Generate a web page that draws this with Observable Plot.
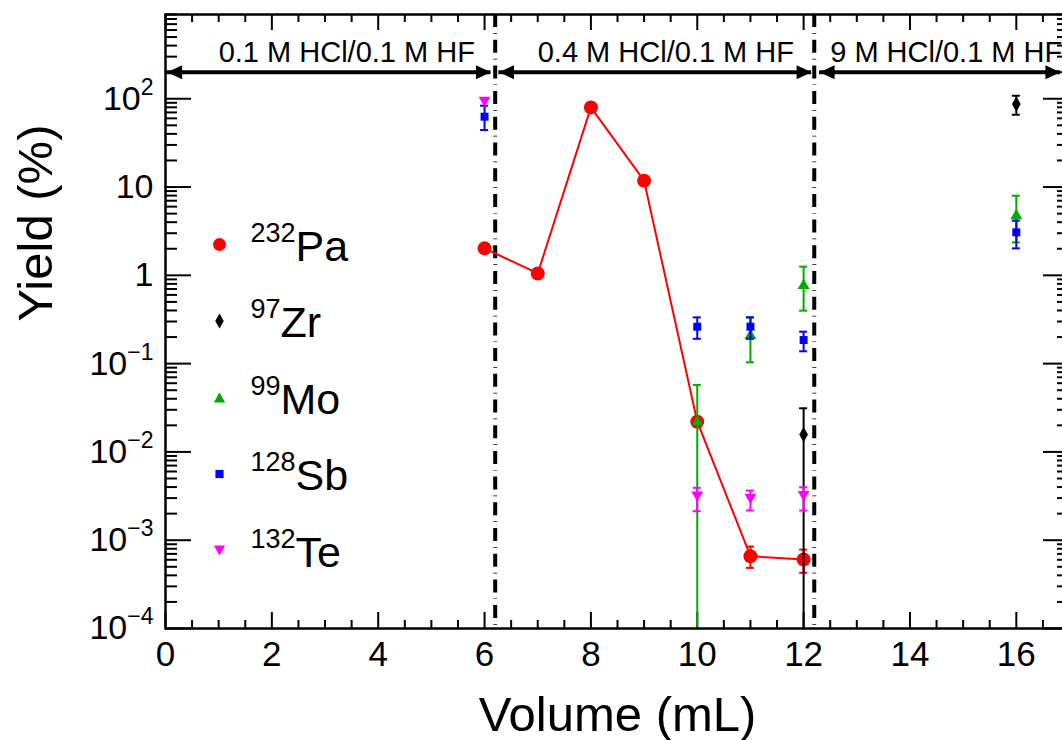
<!DOCTYPE html>
<html><head><meta charset="utf-8">
<script src="https://cdn.jsdelivr.net/npm/d3@7"></script>
<script src="https://cdn.jsdelivr.net/npm/@observablehq/plot@0.6"></script>
<style>
html,body{margin:0;padding:0;background:#fff;overflow:hidden}
#chart{position:relative;width:1062px;height:740px}
</style></head><body><div id="chart"></div>
<script>
// ---------- data ----------
// 232Pa (red circles, joined by a line)
const paVolume = [6, 7, 8, 9, 10, 11, 12];
const paYield  = [2.02, 1.05, 79.8, 11.8, 0.0220, 6.59e-4, 6.04e-4];
const paLow    = [null, null, null, null, null, 4.86e-4, 4.28e-4];
const paHigh   = [null, null, null, null, null, 8.47e-4, 7.83e-4];
// 97Zr (black diamonds)
const zrVolume = [12, 16];
const zrYield  = [0.0157, 87.1];
const zrLow    = [0, 65.9];       // 0: error bar runs below the axis
const zrHigh   = [0.0312, 108.2];
// 99Mo (green triangles)
const moVolume = [10, 11, 12, 16];
const moYield  = [0.0227, 0.217, 0.798, 4.95];
const moLow    = [0, 0.1035, 0.398, 2.36];
const moHigh   = [0.0574, 0.334, 1.254, 7.98];
// 128Sb (blue squares)
const sbVolume = [6, 10, 11, 12, 16];
const sbYield  = [62.6, 0.262, 0.262, 0.185, 3.07];
const sbLow    = [44.2, 0.191, 0.191, 0.138, 2.02];
const sbHigh   = [83.4, 0.334, 0.334, 0.230, 4.16];
// 132Te (magenta down triangles)
const teVolume = [6, 10, 11, 12];
const teYield  = [92, 0.00312, 0.00294, 0.00315];
const teLow    = [null, 0.00213, 0.00217, 0.00217];
const teHigh   = [null, 0.00392, 0.00365, 0.00398];

// eluent regions
const regionLabels = ["0.1 M HCl/0.1 M HF", "0.4 M HCl/0.1 M HF", "9 M HCl/0.1 M HF"];
const regionLabelX = [1, 7, 12.5];
const regionStart  = [0.03, 6.27, 12.3];
const regionEnd    = [6.12, 12.15, 16.83];
const regionArrowY = 200;
const dividerX     = [6.2, 12.2];

// axes
const xDomain = [0, 17];
const yDomain = [1e-4, 900];
const xTickValues = [0, 2, 4, 6, 8, 10, 12, 14, 16];
const yTickValues = [1e-4, 1e-3, 1e-2, 1e-1, 1, 10, 100];
const yTickLabels = ["10^\u22124", "10^\u22123", "10^\u22122", "10^\u22121", "1", "10", "10^2"];

// legend
const legendMass = ["232", "97", "99", "128", "132"];
const legendElement = ["Pa", "Zr", "Mo", "Sb", "Te"];

// ---------- helpers ----------
const colors = {Pa: "#ff0000", Zr: "#000000", Mo: "#00aa00", Sb: "#0000ff", Te: "#ff00ff"};
function rows(xs, ys, lo, hi) {
  return xs.map((x, i) => ({x, y: ys[i], low: lo[i], high: hi[i]}));
}
const pa = rows(paVolume, paYield, paLow, paHigh);
const zr = rows(zrVolume, zrYield, zrLow, zrHigh);
const mo = rows(moVolume, moYield, moLow, moHigh);
const sb = rows(sbVolume, sbYield, sbLow, sbHigh);
const te = rows(teVolume, teYield, teLow, teHigh);

const triUp = {draw(ctx, size) {
  const s = Math.sqrt(size * 4 / Math.sqrt(3)), h = s * Math.sqrt(3) / 2;
  ctx.moveTo(0, -h / 2); ctx.lineTo(s / 2, h / 2); ctx.lineTo(-s / 2, h / 2); ctx.closePath();
}};
const triDown = {draw(ctx, size) {
  const s = Math.sqrt(size * 4 / Math.sqrt(3)), h = s * Math.sqrt(3) / 2;
  ctx.moveTo(0, h / 2); ctx.lineTo(s / 2, -h / 2); ctx.lineTo(-s / 2, -h / 2); ctx.closePath();
}};
const headRight = {draw(ctx) { ctx.moveTo(0, 0); ctx.lineTo(-15, -7); ctx.lineTo(-15, 7); ctx.closePath(); }};
const headLeft  = {draw(ctx) { ctx.moveTo(0, 0); ctx.lineTo(15, -7); ctx.lineTo(15, 7); ctx.closePath(); }};

const W = 1062, H = 740;
const mL = 165, mR = -7, mT = 14, mB = 112;
const frameW = W - mL - mR, frameH = H - mT - mB;
const yMin = yDomain[0];

const yAllTicks = d3.scaleLog().domain(yDomain).ticks();
const yMinor = yAllTicks.filter(v => Math.abs(Math.log10(v) - Math.round(Math.log10(v))) > 1e-6);
const xMinor = d3.range(0, xDomain[1] + 0.001, 0.5).filter(v => v % 2 !== 0);

function errorMarks(data, color) {
  const withLow = data.filter(d => d.high != null && d.low >= yMin);
  const withHigh = data.filter(d => d.high != null);
  return [
    Plot.ruleX(withHigh, {x: "x", y1: d => Math.max(d.low, yMin), y2: "high", stroke: color, strokeWidth: 2}),
    Plot.ruleY(withHigh, {y: "high", x1: "x", x2: "x", insetLeft: -4, insetRight: -4, stroke: color, strokeWidth: 2}),
    Plot.ruleY(withLow, {y: "low", x1: "x", x2: "x", insetLeft: -4, insetRight: -4, stroke: color, strokeWidth: 2})
  ];
}

const legendSymbols = [
  {symbol: "circle", r: 6.5},
  {symbol: "diamond", r: 4.5},
  {symbol: triUp, r: 4.2},
  {symbol: "square", r: 4.6},
  {symbol: triDown, r: 4.2}
];
const legendMarks = legendElement.flatMap((el, i) => [
  Plot.dot([0], {frameAnchor: "top-left", dx: 54, dy: 230 + i * 76.5,
    symbol: legendSymbols[i].symbol, r: legendSymbols[i].r, fill: colors[el], stroke: "none"}),
  Plot.text([legendMass[i] + "|" + el], {frameAnchor: "top-left", dx: 85, dy: 246 + i * 76.5,
    lineAnchor: "bottom", textAnchor: "start", fontSize: 43, fill: "black", text: d => d})
]);

const regions = regionLabels.map((t, i) => ({t, lx: regionLabelX[i], x1: regionStart[i], x2: regionEnd[i], y: regionArrowY}));

const chart = Plot.plot({
  width: W, height: H,
  marginLeft: mL, marginRight: mR, marginTop: mT, marginBottom: mB,
  style: {fontFamily: "'Liberation Sans', Arial, Helvetica, sans-serif", background: "white", color: "black"},
  x: {domain: xDomain, axis: null},
  y: {type: "log", domain: yDomain, axis: null},
  marks: [
    // ticks (inward, mirrored)
    Plot.tickX(xTickValues, {x: d => d, insetTop: frameH - 16, stroke: "black", strokeWidth: 2}),
    Plot.tickX(xMinor, {x: d => d, insetTop: frameH - 8, stroke: "black", strokeWidth: 2}),
    Plot.tickX(xTickValues, {x: d => d, insetBottom: frameH - 16, stroke: "black", strokeWidth: 2}),
    Plot.tickX(xMinor, {x: d => d, insetBottom: frameH - 8, stroke: "black", strokeWidth: 2}),
    Plot.tickY(yTickValues, {y: d => d, insetRight: frameW - 26, stroke: "black", strokeWidth: 2}),
    Plot.tickY(yMinor, {y: d => d, insetRight: frameW - 12, stroke: "black", strokeWidth: 2}),
    Plot.tickY(yTickValues, {y: d => d, insetLeft: frameW - 26, stroke: "black", strokeWidth: 2}),
    Plot.tickY(yMinor, {y: d => d, insetLeft: frameW - 12, stroke: "black", strokeWidth: 2}),
    // tick labels
    Plot.text(xTickValues, {x: d => d, frameAnchor: "bottom", dy: 26, lineAnchor: "middle", fontSize: 35, text: d => String(d), fill: "black"}),
    Plot.text(yTickValues, {y: d => d, frameAnchor: "left", dx: -12, textAnchor: "end", lineAnchor: "middle", fontSize: 34,
      text: (d, i) => yTickLabels[i], fill: "black"}),
    // axis titles
    Plot.text(["Volume (mL)"], {frameAnchor: "bottom", dy: 102, lineAnchor: "bottom", fontSize: 49, fill: "black", text: d => d}),
    Plot.text(["Yield (%)"], {frameAnchor: "left", dx: -129, rotate: -90, lineAnchor: "middle", fontSize: 49, fill: "black", text: d => d}),
    // region dividers and arrows
    Plot.ruleX(dividerX, {x: d => d, stroke: "black", strokeWidth: 4, strokeDasharray: "13,6,0.7,6"}),
    Plot.ruleY(regions, {y: "y", x1: "x1", x2: "x2", stroke: "black", strokeWidth: 4}),
    Plot.dot(regions, {x: "x1", y: "y", symbol: headLeft, fill: "black", stroke: "none"}),
    Plot.dot(regions, {x: "x2", y: "y", symbol: headRight, fill: "black", stroke: "none"}),
    Plot.text(regions, {x: "lx", frameAnchor: "top", dy: 47, lineAnchor: "bottom", textAnchor: "start", fontSize: 29, fill: "black", text: "t"}),
    // 232Pa
    Plot.line(pa, {x: "x", y: "y", stroke: colors.Pa, strokeWidth: 2}),
    ...errorMarks(pa, colors.Pa),
    Plot.dot(pa, {x: "x", y: "y", r: 7, fill: colors.Pa, stroke: "none"}),
    // 97Zr
    ...errorMarks(zr, colors.Zr),
    Plot.dot(zr, {x: "x", y: "y", symbol: "diamond", r: 4.6, fill: colors.Zr, stroke: "none"}),
    // 99Mo
    ...errorMarks(mo, colors.Mo),
    Plot.dot(mo, {x: "x", y: "y", symbol: triUp, r: 4.4, fill: colors.Mo, stroke: "none"}),
    // 128Sb
    ...errorMarks(sb, colors.Sb),
    Plot.dot(sb, {x: "x", y: "y", symbol: "square", r: 4.5, fill: colors.Sb, stroke: "none"}),
    // 132Te
    ...errorMarks(te, colors.Te),
    Plot.dot(te, {x: "x", y: "y", symbol: triDown, r: 4.4, fill: colors.Te, stroke: "none"}),
    // legend
    ...legendMarks,
    // frame
    Plot.frame({stroke: "black", strokeWidth: 2.5})
  ]
});

// superscripts as real tspans
d3.select(chart).selectAll("text").each(function () {
  const t = this.textContent;
  const sel = d3.select(this);
  if (t.includes("^")) {
    const [base, sup] = t.split("^");
    sel.text(null);
    sel.append("tspan").text(base);
    sel.append("tspan").attr("dy", -15).attr("font-size", 23).text(sup);
  } else if (t.includes("|")) {
    const [sup, base] = t.split("|");
    sel.text(null);
    sel.append("tspan").attr("dy", -19).attr("font-size", 27).text(sup);
    sel.append("tspan").attr("dy", 19).text(base);
  }
});

document.getElementById("chart").appendChild(chart);
</script>
</body></html>
